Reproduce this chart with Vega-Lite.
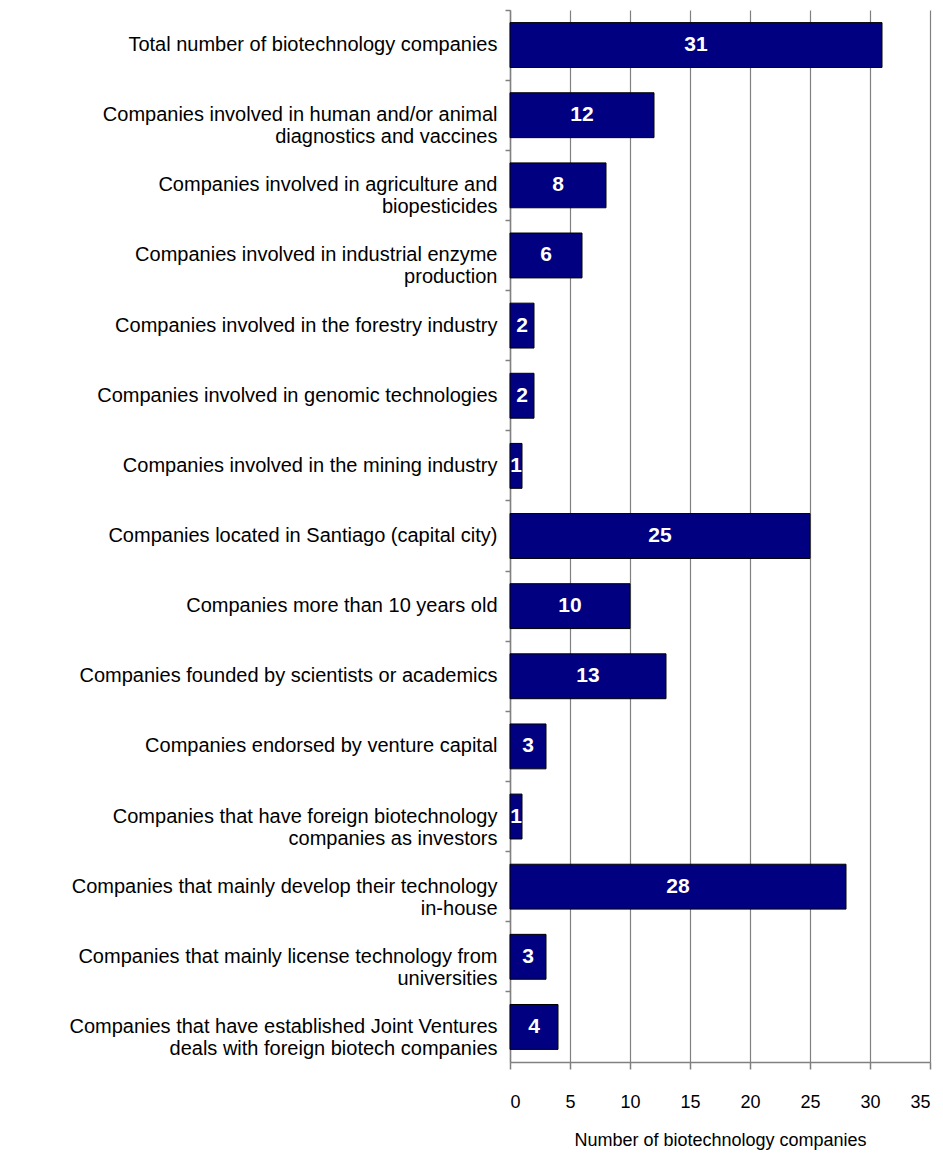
{
  "$schema": "https://vega.github.io/schema/vega-lite/v6.json",
  "autosize": {"type": "none"},
  "padding": {"left": 510, "top": 10, "right": 13, "bottom": 98},
  "width": 420,
  "height": 1052,
  "background": "white",
  "config": {
    "view": {"stroke": null},
    "font": "Liberation Sans"
  },
  "data": {
    "values": [
      {"category": "Total number of biotechnology companies", "count": 31},
      {"category": "Companies involved in human and/or animal|diagnostics and vaccines", "count": 12},
      {"category": "Companies involved in agriculture and|biopesticides", "count": 8},
      {"category": "Companies involved in industrial enzyme|production", "count": 6},
      {"category": "Companies involved in the forestry industry", "count": 2},
      {"category": "Companies involved in genomic technologies", "count": 2},
      {"category": "Companies involved in the mining industry", "count": 1},
      {"category": "Companies located in Santiago (capital city)", "count": 25},
      {"category": "Companies  more than 10 years old", "count": 10},
      {"category": "Companies founded by scientists or academics", "count": 13},
      {"category": "Companies endorsed by venture capital", "count": 3},
      {"category": "Companies that have foreign biotechnology|companies as investors", "count": 1},
      {"category": "Companies that mainly develop their technology|in-house", "count": 28},
      {"category": "Companies that mainly license technology from|universities", "count": 3},
      {"category": "Companies that have established Joint Ventures|deals with foreign biotech companies", "count": 4}
    ]
  },
  "encoding": {
    "y": {
      "field": "category",
      "type": "nominal",
      "sort": null,
      "scale": {"paddingInner": 0, "paddingOuter": 0},
      "axis": {
        "title": null,
        "labelExpr": "split(datum.value, '|')",
        "labelFont": "Liberation Sans",
        "labelFontSize": 20,
        "labelColor": "black",
        "labelLineHeight": 22,
        "labelPadding": 8,
        "labelLimit": 520,
        "bandPosition": 0,
        "tickColor": "#808080",
        "tickSize": 5,
        "tickWidth": 1.5,
        "domainColor": "#808080",
        "domainWidth": 1.5
      }
    }
  },
  "layer": [
    {
      "mark": {"type": "bar", "color": "#000080", "stroke": "black", "strokeWidth": 1, "height": {"band": 0.64}},
      "encoding": {
        "x": {
          "field": "count",
          "type": "quantitative",
          "scale": {"domain": [0, 35], "nice": false},
          "axis": {
            "title": "Number of biotechnology companies",
            "titleFont": "Liberation Sans",
            "titleFontSize": 18,
            "titleFontWeight": "normal",
            "titleColor": "black",
            "titlePadding": 20,
            "values": [0, 5, 10, 15, 20, 25, 30, 35],
            "labelFont": "Liberation Sans",
            "labelFontSize": 18,
            "labelColor": "black",
            "labelPadding": 24,
            "grid": true,
            "gridColor": "#808080",
            "gridWidth": 1.2,
            "tickColor": "#808080",
            "tickSize": 7,
            "tickWidth": 1.5,
            "domainColor": "#808080",
            "domainWidth": 1.5
          }
        }
      }
    },
    {
      "mark": {"type": "text", "color": "white", "fontWeight": "bold", "fontSize": 21, "font": "Liberation Sans", "baseline": "middle", "align": "center"},
      "encoding": {
        "x": {
          "field": "count",
          "type": "quantitative",
          "scale": {"domain": [0, 70], "nice": false},
          "axis": null
        },
        "text": {"field": "count", "type": "quantitative"}
      }
    }
  ],
  "resolve": {"scale": {"x": "independent"}}
}
